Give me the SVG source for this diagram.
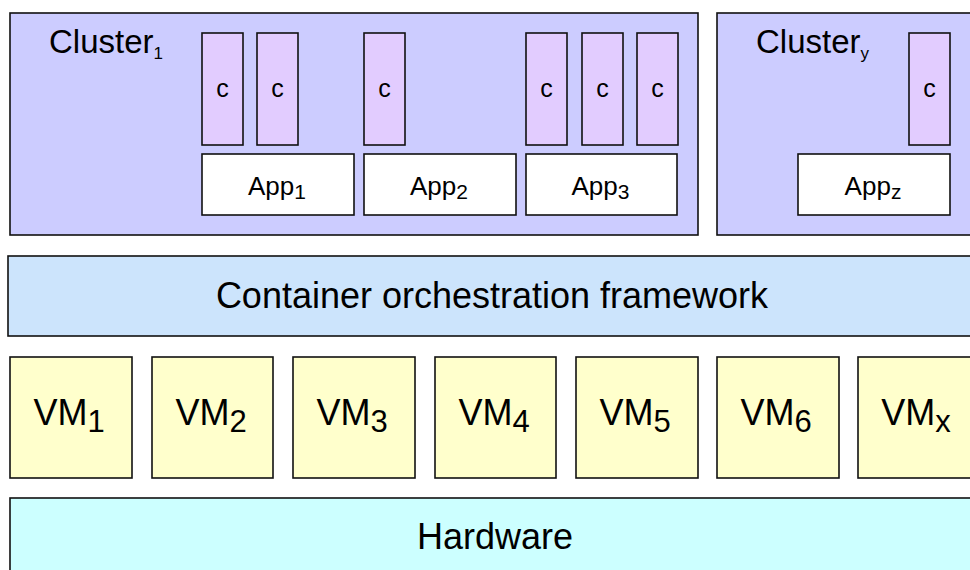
<svg xmlns="http://www.w3.org/2000/svg" width="970" height="570" viewBox="0 0 970 570">
<style>
rect{stroke:#111;stroke-width:1.6}
.cl{fill:#CCCCFF}
.c{fill:#E2CCFF}
.app{fill:#FFFFFF}
.fw{fill:#CCE4FC}
.vm{fill:#FFFFCC}
.hw{fill:#CCFFFF}
text{font-family:"Liberation Sans",Arial,sans-serif;fill:#000}
.big{font-size:36px}
.ct{font-size:33px}
.at{font-size:26px}
.cc{font-size:25px}
</style>
<rect width="970" height="570" fill="#fff" style="stroke:none"/>
<g id="cluster1">
<rect class="cl" x="10" y="13" width="688" height="222"/>
<text class="ct" x="49" y="53">Cluster<tspan font-size="17" dy="6">1</tspan></text>
</g>
<g id="clustery">
<rect class="cl" x="717" y="13" width="270" height="222"/>
<text class="ct" x="756" y="53">Cluster<tspan font-size="17" dy="6">y</tspan></text>
</g>
<g id="c1"><rect class="c" x="202" y="33" width="41" height="112"/><text class="cc" x="222.5" y="97" text-anchor="middle">c</text></g>
<g id="c2"><rect class="c" x="257" y="33" width="41" height="112"/><text class="cc" x="277.5" y="97" text-anchor="middle">c</text></g>
<g id="c3"><rect class="c" x="364" y="33" width="41" height="112"/><text class="cc" x="384.5" y="97" text-anchor="middle">c</text></g>
<g id="c4"><rect class="c" x="526" y="33" width="41" height="112"/><text class="cc" x="546.5" y="97" text-anchor="middle">c</text></g>
<g id="c5"><rect class="c" x="582" y="33" width="41" height="112"/><text class="cc" x="602.5" y="97" text-anchor="middle">c</text></g>
<g id="c6"><rect class="c" x="637" y="33" width="41" height="112"/><text class="cc" x="657.5" y="97" text-anchor="middle">c</text></g>
<g id="c7"><rect class="c" x="909" y="33" width="41" height="112"/><text class="cc" x="929.5" y="97" text-anchor="middle">c</text></g>
<g id="app1"><rect class="app" x="202" y="154" width="152" height="61"/><text class="at" x="277" y="195" text-anchor="middle">App<tspan font-size="21" dy="4">1</tspan></text></g>
<g id="app2"><rect class="app" x="364" y="154" width="152" height="61"/><text class="at" x="439" y="195" text-anchor="middle">App<tspan font-size="21" dy="4">2</tspan></text></g>
<g id="app3"><rect class="app" x="526" y="154" width="151" height="61"/><text class="at" x="600.5" y="195" text-anchor="middle">App<tspan font-size="21" dy="4">3</tspan></text></g>
<g id="appz"><rect class="app" x="798" y="154" width="152" height="61"/><text class="at" x="873" y="195" text-anchor="middle">App<tspan font-size="21" dy="4">z</tspan></text></g>
<g id="framework"><rect class="fw" x="8" y="256" width="980" height="80"/><text class="big" x="492" y="308" text-anchor="middle">Container orchestration framework</text></g>
<g id="vm1"><rect class="vm" x="10" y="357" width="122" height="121"/><text class="big" x="69" y="425" text-anchor="middle">VM<tspan font-size="31" dy="7">1</tspan></text></g>
<g id="vm2"><rect class="vm" x="152" y="357" width="121" height="121"/><text class="big" x="211" y="425" text-anchor="middle">VM<tspan font-size="31" dy="7">2</tspan></text></g>
<g id="vm3"><rect class="vm" x="293" y="357" width="122" height="121"/><text class="big" x="352" y="425" text-anchor="middle">VM<tspan font-size="31" dy="7">3</tspan></text></g>
<g id="vm4"><rect class="vm" x="435" y="357" width="121" height="121"/><text class="big" x="494" y="425" text-anchor="middle">VM<tspan font-size="31" dy="7">4</tspan></text></g>
<g id="vm5"><rect class="vm" x="576" y="357" width="122" height="121"/><text class="big" x="635" y="425" text-anchor="middle">VM<tspan font-size="31" dy="7">5</tspan></text></g>
<g id="vm6"><rect class="vm" x="717" y="357" width="122" height="121"/><text class="big" x="776" y="425" text-anchor="middle">VM<tspan font-size="31" dy="7">6</tspan></text></g>
<g id="vmx"><rect class="vm" x="858" y="357" width="122" height="121"/><text class="big" x="916" y="425" text-anchor="middle">VM<tspan font-size="31" dy="7">x</tspan></text></g>
<g id="hardware"><rect class="hw" x="10" y="498" width="980" height="90"/><text class="big" x="495" y="549" text-anchor="middle">Hardware</text></g>
<g id="connectors"></g>
</svg>
